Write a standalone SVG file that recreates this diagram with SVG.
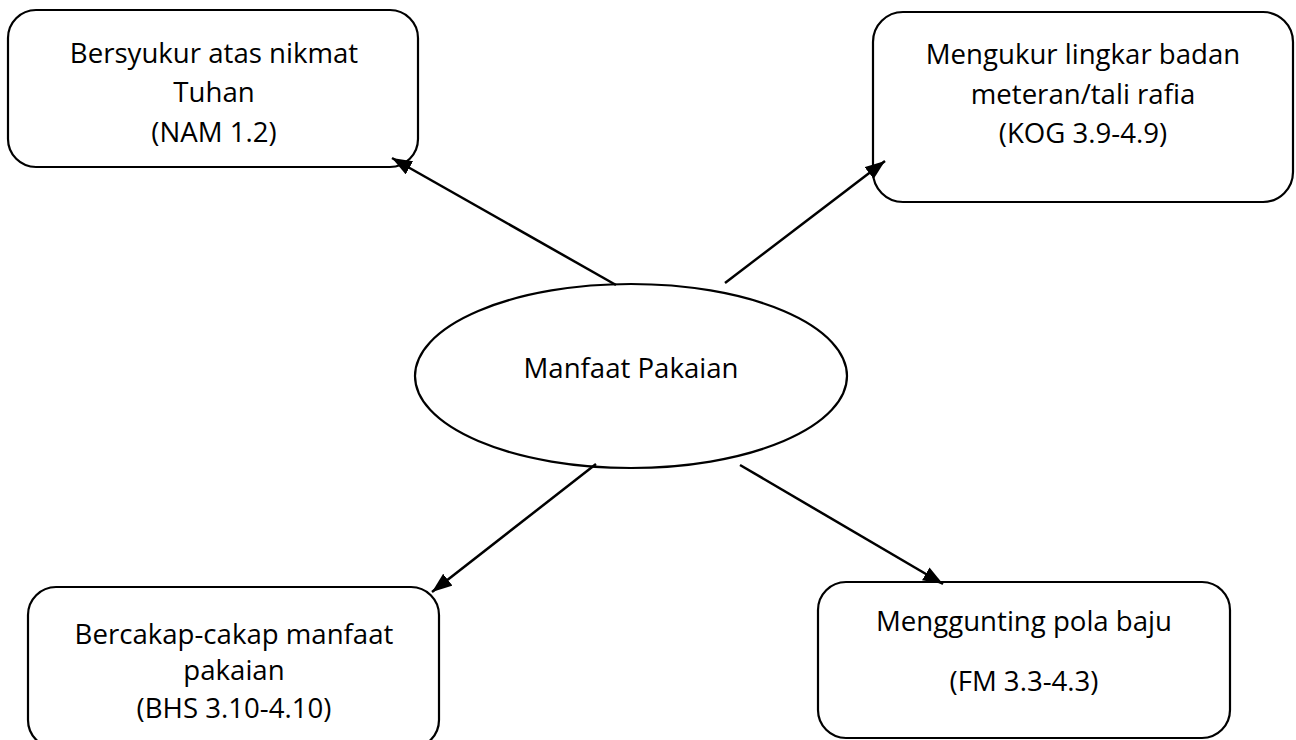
<svg xmlns="http://www.w3.org/2000/svg" width="1296" height="740" viewBox="0 0 1296 740">
<style>
.box{fill:#fff;stroke:#000;stroke-width:2.2}
.lbl{font-family:"Open Sans","Liberation Sans",sans-serif;font-size:27.6px;fill:#000;text-anchor:middle}
.conn{stroke:#000;stroke-width:2.5;fill:none}
</style>
<defs>
<marker id="ah" markerUnits="userSpaceOnUse" markerWidth="22" markerHeight="16" refX="20" refY="7.5" orient="auto">
<path d="M0,0 L20,7.5 L0,15 z" fill="#000"/>
</marker>
</defs>
<rect width="1296" height="740" fill="#fff"/>
<g id="node-nam">
<rect class="box" x="8" y="10" width="410" height="157" rx="28"/>
<text class="lbl" x="214" y="63">Bersyukur atas nikmat</text>
<text class="lbl" x="214" y="102">Tuhan</text>
<text class="lbl" x="214" y="142">(NAM 1.2)</text>
</g>
<g id="node-kog">
<rect class="box" x="873" y="12" width="420" height="190" rx="30"/>
<text class="lbl" x="1083" y="64">Mengukur lingkar badan</text>
<text class="lbl" x="1083" y="104">meteran/tali rafia</text>
<text class="lbl" x="1083" y="143">(KOG 3.9-4.9)</text>
</g>
<g id="node-center">
<ellipse class="box" cx="631" cy="376" rx="216" ry="92"/>
<text class="lbl" x="631" y="378">Manfaat Pakaian</text>
</g>
<g id="node-bhs">
<rect class="box" x="28" y="587" width="411" height="161" rx="28"/>
<text class="lbl" x="234" y="644">Bercakap-cakap manfaat</text>
<text class="lbl" x="234" y="680">pakaian</text>
<text class="lbl" x="234" y="718">(BHS 3.10-4.10)</text>
</g>
<g id="node-fm">
<rect class="box" x="818" y="582" width="412" height="156" rx="28"/>
<text class="lbl" x="1024" y="631">Menggunting pola baju</text>
<text class="lbl" x="1024" y="691">(FM 3.3-4.3)</text>
</g>
<g id="connectors">
<line class="conn" x1="616" y1="285" x2="392" y2="158" marker-end="url(#ah)"/>
<line class="conn" x1="725" y1="283" x2="885" y2="161" marker-end="url(#ah)"/>
<line class="conn" x1="596" y1="464" x2="432" y2="592" marker-end="url(#ah)"/>
<line class="conn" x1="740" y1="465" x2="943" y2="584" marker-end="url(#ah)"/>
</g>
</svg>
